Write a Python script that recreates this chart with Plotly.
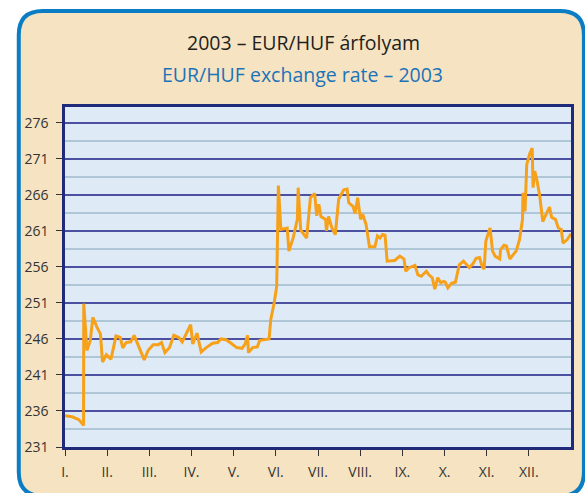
import plotly.graph_objects as go

# ---- data ----
month_labels = ["I.", "II.", "III.", "IV.", "V.", "VI.", "VII.", "VIII.", "IX.", "X.", "XI.", "XII."]
y_ticks = [231, 236, 241, 246, 251, 256, 261, 266, 271, 276]

# position along the year in months (0 = start of January, 12 = end of December)
month_pos = [
    0.00, 0.17, 0.33, 0.44, 0.445, 0.52, 0.60, 0.66, 0.76, 0.84, 0.89, 0.98,
    1.09, 1.21, 1.31, 1.37, 1.45, 1.56, 1.64, 1.78, 1.88, 1.97, 2.09, 2.21,
    2.29, 2.37, 2.48, 2.58, 2.70, 2.78, 2.88, 2.98, 3.03, 3.13, 3.23, 3.35,
    3.50, 3.62, 3.70, 3.82, 3.94, 4.07, 4.20, 4.27, 4.33, 4.35, 4.45, 4.56,
    4.62, 4.76, 4.84, 4.88, 4.96, 5.02, 5.06, 5.12, 5.19, 5.27, 5.31, 5.41,
    5.51, 5.53, 5.59, 5.73, 5.82, 5.92, 5.97, 6.02, 6.07, 6.18, 6.20, 6.25,
    6.33, 6.41, 6.49, 6.61, 6.69, 6.73, 6.83, 6.88, 6.94, 7.01, 7.06, 7.14,
    7.22, 7.35, 7.41, 7.47, 7.53, 7.59, 7.64, 7.74, 7.82, 7.94, 8.04, 8.08,
    8.16, 8.21, 8.30, 8.37, 8.45, 8.57, 8.63, 8.71, 8.77, 8.84, 8.91, 8.98,
    9.02, 9.08, 9.16, 9.26, 9.35, 9.45, 9.59, 9.67, 9.75, 9.83, 9.89, 9.94,
    9.98, 10.08, 10.14, 10.20, 10.31, 10.33, 10.41, 10.47, 10.55, 10.63, 10.70, 10.78,
    10.85, 10.86, 10.91, 10.95, 11.02, 11.08, 11.10, 11.14, 11.19, 11.26, 11.33, 11.41,
    11.49, 11.54, 11.63, 11.70, 11.77, 11.81, 11.91, 12.00,
]
eur_huf = [
    235.35, 235.2, 234.8, 234.0, 250.9, 244.4, 245.8, 249.0, 247.6, 246.7, 242.8, 243.8,
    243.2, 246.4, 246.2, 244.75, 245.5, 245.6, 246.5, 244.6, 243.1, 244.4, 245.2, 245.2,
    245.5, 244.1, 244.8, 246.5, 246.2, 245.6, 246.9, 248.0, 245.3, 246.8, 244.2, 244.8,
    245.4, 245.5, 246.0, 245.9, 245.4, 244.8, 244.7, 245.3, 246.5, 244.1, 244.8, 244.9,
    245.8, 245.9, 246.0, 248.7, 251.0, 253.3, 267.3, 261.2, 261.3, 261.4, 258.2, 260.0,
    262.6, 267.0, 261.1, 260.0, 265.6, 266.2, 263.1, 264.7, 263.0, 262.6, 261.0, 263.0,
    261.4, 260.5, 265.4, 266.7, 266.8, 264.9, 264.4, 263.4, 265.6, 262.6, 263.3, 261.9,
    258.8, 258.8, 260.3, 260.0, 260.5, 260.4, 256.8, 256.8, 256.9, 257.5, 257.1, 255.4,
    255.9, 256.0, 256.2, 254.9, 254.7, 255.4, 254.9, 254.5, 252.9, 254.5, 253.8, 254.0,
    253.9, 253.1, 253.7, 253.9, 256.3, 256.8, 255.9, 256.4, 257.2, 257.3, 256.1, 255.7,
    259.6, 261.4, 258.2, 257.5, 257.1, 258.4, 259.0, 258.9, 257.1, 257.7, 258.2, 259.8,
    262.6, 266.3, 263.7, 270.2, 271.7, 272.5, 267.0, 269.3, 268.1, 265.8, 262.3, 263.3,
    264.3, 262.9, 262.6, 261.4, 261.2, 259.3, 259.8, 260.6,
]

title_hu = "2003 – EUR/HUF árfolyam"
title_en = "EUR/HUF exchange rate – 2003"

# ---- layout geometry (pixels) ----
W, H = 585, 493
ML, MR, MT, MB = 65, 11, 107, 46
PW, PH = W - ML - MR, H - MT - MB


def px(x):
    return (x - ML) / PW


def py(y):
    return (H - MB - y) / PH


def rounded_rect(x0, y0, x1, y1, r):
    pts = [
        f"M {px(x0 + r)},{py(y0)}",
        f"L {px(x1 - r)},{py(y0)}",
        f"Q {px(x1)},{py(y0)} {px(x1)},{py(y0 + r)}",
        f"L {px(x1)},{py(y1 - r)}",
        f"Q {px(x1)},{py(y1)} {px(x1 - r)},{py(y1)}",
        f"L {px(x0 + r)},{py(y1)}",
        f"Q {px(x0)},{py(y1)} {px(x0)},{py(y1 - r)}",
        f"L {px(x0)},{py(y0 + r)}",
        f"Q {px(x0)},{py(y0)} {px(x0 + r)},{py(y0)}",
        "Z",
    ]
    return " ".join(pts)


fig = go.Figure()
fig.add_trace(go.Scatter(
    x=month_pos, y=eur_huf, mode="lines",
    line=dict(color="#f7a11a", width=3), hoverinfo="skip", showlegend=False,
))

shapes = [
    dict(type="path", xref="paper", yref="paper", layer="below",
         path=rounded_rect(18.5, 11, 587, 496, 24),
         fillcolor="#f6e3c1", line=dict(color="#0a7dc4", width=4)),
    dict(type="rect", xref="paper", yref="paper", layer="below",
         x0=0, x1=1, y0=0, y1=1, fillcolor="#deebf6", line=dict(width=0)),
]

annotations = [
    dict(text=title_hu, x=px(305), y=py(42), xref="paper", yref="paper",
         xanchor="center", yanchor="middle", showarrow=False,
         font=dict(family="Open Sans", size=19.5, color="#231f20")),
    dict(text=title_en, x=px(304), y=py(75), xref="paper", yref="paper",
         xanchor="center", yanchor="middle", showarrow=False,
         font=dict(family="Open Sans", size=19.5, color="#1b73b9")),
]

fig.update_layout(
    width=W, height=H,
    margin=dict(l=ML, r=MR, t=MT, b=MB, pad=0),
    paper_bgcolor="white",
    plot_bgcolor="rgba(0,0,0,0)",
    shapes=shapes,
    annotations=annotations,
    font=dict(family="Open Sans", size=14, color="#333333"),
)

fig.update_xaxes(
    range=[0, 12], tickmode="array", tickvals=list(range(12)), ticktext=month_labels,
    ticks="outside", ticklen=6, tickcolor="#333333", tickwidth=1,
    ticklabelstandoff=4,
    showgrid=False, zeroline=False,
    showline=True, mirror=True, linecolor="#1f2a78", linewidth=2.5,
    tickfont=dict(family="Open Sans", size=14, color="#333333"),
    fixedrange=True,
)
fig.update_yaxes(
    range=[231, 278.2], tickmode="array", tickvals=y_ticks,
    ticks="outside", ticklen=6, tickcolor="#333333", tickwidth=1,
    ticklabelstandoff=5,
    showgrid=True, gridcolor="#4b50a0", gridwidth=1.5,
    minor=dict(tickmode="linear", tick0=233.5, dtick=5, showgrid=True,
               gridcolor="#aec6d6", gridwidth=1.5, ticks=""),
    zeroline=False,
    showline=True, mirror=True, linecolor="#1f2a78", linewidth=2.5,
    tickfont=dict(family="Open Sans", size=14, color="#333333"),
    fixedrange=True,
)

fig.write_html("out.html", config={"displayModeBar": False},
               post_script="document.body.style.margin='0px';")
